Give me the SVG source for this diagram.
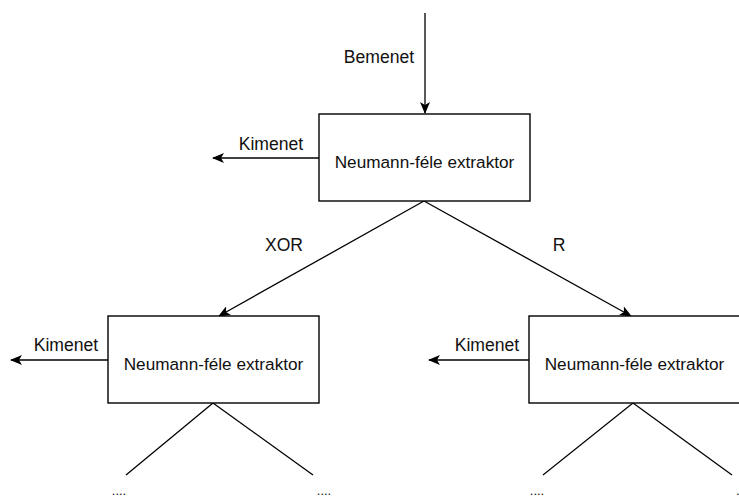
<svg xmlns="http://www.w3.org/2000/svg" width="739" height="498" viewBox="0 0 739 498">
<style>
.box{fill:#fff;stroke:#000;stroke-width:1.4}
.ln{fill:none;stroke:#000;stroke-width:1.3}
.t{font-family:"Liberation Sans",Arial,sans-serif;font-size:17.2px;fill:#111}
.lb{font-family:"Liberation Sans",Arial,sans-serif;font-size:17.6px;fill:#111}
.dots{font-family:"Liberation Sans",Arial,sans-serif;font-size:13px;fill:#111}
</style>
<defs>
<marker id="arr" viewBox="0 0 12 10" refX="11" refY="5" markerWidth="12" markerHeight="10" markerUnits="userSpaceOnUse" orient="auto">
<path d="M0,0 L12,5 L0,10 L3,5 z" fill="#000"/>
</marker>
</defs>
<rect width="739" height="498" fill="#fff"/>
<g id="connectors">
<line class="ln" x1="425" y1="13" x2="425" y2="113" marker-end="url(#arr)"/>
<line class="ln" x1="319" y1="158" x2="213" y2="158" marker-end="url(#arr)"/>
<line class="ln" x1="424" y1="201" x2="219" y2="316" marker-end="url(#arr)"/>
<line class="ln" x1="424" y1="201" x2="631" y2="316" marker-end="url(#arr)"/>
<line class="ln" x1="108" y1="360" x2="11" y2="360" marker-end="url(#arr)"/>
<line class="ln" x1="529" y1="360" x2="429" y2="360" marker-end="url(#arr)"/>
<line class="ln" x1="213" y1="403" x2="126" y2="475"/>
<line class="ln" x1="213" y1="403" x2="313" y2="475"/>
<line class="ln" x1="633" y1="403" x2="543" y2="475"/>
<line class="ln" x1="633" y1="403" x2="732" y2="475"/>
</g>
<g id="labels">
<text class="lb" x="379" y="63" text-anchor="middle">Bemenet</text>
<text class="lb" x="271" y="150" text-anchor="middle">Kimenet</text>
<text class="lb" x="284" y="251" text-anchor="middle">XOR</text>
<text class="lb" x="559" y="251" text-anchor="middle">R</text>
<text class="lb" x="66" y="351" text-anchor="middle">Kimenet</text>
<text class="lb" x="487" y="351" text-anchor="middle">Kimenet</text>
<text class="dots" x="119" y="495" text-anchor="middle">....</text>
<text class="dots" x="324" y="495" text-anchor="middle">....</text>
<text class="dots" x="537" y="495" text-anchor="middle">....</text>
<text class="dots" x="736" y="495">.</text>
</g>
<g id="node-top">
<rect class="box" x="319" y="114" width="211" height="87"/>
<text class="t" x="424.5" y="168" text-anchor="middle">Neumann-féle extraktor</text>
</g>
<g id="node-left">
<rect class="box" x="108" y="316" width="211" height="87"/>
<text class="t" x="213.5" y="370" text-anchor="middle">Neumann-féle extraktor</text>
</g>
<g id="node-right">
<rect class="box" x="529" y="316" width="211" height="87"/>
<text class="t" x="634.5" y="370" text-anchor="middle">Neumann-féle extraktor</text>
</g>
</svg>
